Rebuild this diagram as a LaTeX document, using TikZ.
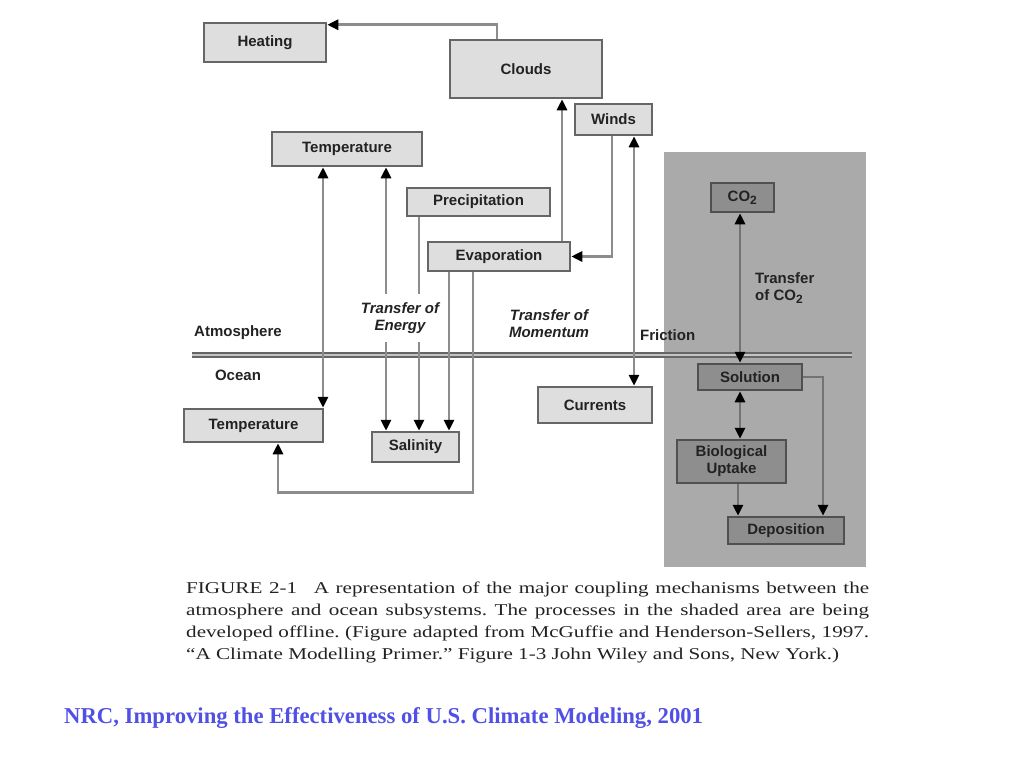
\documentclass[tikz,border=0pt]{standalone}
\usepackage{fontspec}
\setmainfont{Liberation Serif}
\setsansfont{Liberation Sans}
\newfontfamily\capfont[FakeStretch=1.28,Ligatures=TeX]{Liberation Serif}
\usepackage{tikz}
\usetikzlibrary{calc,arrows.meta}

\definecolor{boxfill}{HTML}{DEDEDE}
\definecolor{boxline}{HTML}{666666}
\definecolor{darkfill}{HTML}{8E8E8E}
\definecolor{darkline}{HTML}{505050}
\definecolor{shadegray}{HTML}{AAAAAA}
\definecolor{connline}{HTML}{8C8C8C}
\definecolor{labeltext}{HTML}{222222}
\definecolor{nrcblue}{RGB}{80,80,230}

\newcommand{\lblfont}{\sffamily\bfseries\fontsize{15}{17}\selectfont}
\newcommand{\cotwo}{CO\textsubscript{\fontsize{12}{12}\selectfont 2}}

\tikzset{
    box/.style={draw=boxline, fill=boxfill, line width=2.5pt, inner sep=0pt,
        font=\lblfont, text=labeltext, align=center},
    dbox/.style={box, draw=darkline, fill=darkfill},
    conn/.style={draw=connline, line width=2.8pt,
        -{Triangle[length=11pt,width=10pt,color=black]}},
    dconn/.style={conn,
        {Triangle[length=11pt,width=10pt,color=black]}-{Triangle[length=11pt,width=10pt,color=black]}},
    darkconn/.style={draw=darkline!80},
    tag/.style={font=\lblfont, text=labeltext, align=center, inner sep=0pt},
}

\begin{document}
\begin{tikzpicture}[x=1pt, y=-1pt]
    \useasboundingbox (0,0) rectangle (1024,768);

    \fill[shadegray] (664,152) rectangle (866,567);

    % atmosphere / ocean interface
    \coordinate (ifL) at (192,355);
    \coordinate (ifR) at (852,355);
    \draw[draw=boxline, line width=2.2pt, double=shadegray!70, double distance=2.5pt] (ifL) -- (ifR);

    \node[box, minimum width=122pt, minimum height=39pt] (heat) at (265,42.5) {Heating};
    \node[box, minimum width=152pt, minimum height=58pt] (clouds) at (526,69) {Clouds};
    \node[box, minimum width=77pt, minimum height=31pt] (winds) at (613.5,119.5) {Winds};
    \node[box, minimum width=150pt, minimum height=34pt] (tempA) at (347,149) {Temperature};
    \node[box, minimum width=143pt, minimum height=28pt] (precip) at (478.5,202) {Precipitation};
    \node[box, minimum width=142pt, minimum height=29pt] (evap) at (499,256.5) {Evaporation};
    \node[box, minimum width=139pt, minimum height=33pt] (tempO) at (253.5,425.5) {Temperature};
    \node[box, minimum width=87pt, minimum height=30pt] (salin) at (415.5,447) {Salinity};
    \node[box, minimum width=114pt, minimum height=36pt] (curr) at (595,405) {Currents};

    \node[dbox, minimum width=63pt, minimum height=29pt] (co2) at (742.5,197.5) {\cotwo};
    \node[dbox, minimum width=104pt, minimum height=26pt] (solut) at (750,377) {Solution};
    \node[dbox, minimum width=109pt, minimum height=43pt] (bio) at (731.5,461.5) {Biological\\Uptake};
    \node[dbox, minimum width=116pt, minimum height=27pt] (depos) at (786,530.5) {Deposition};

    \draw[conn] ([xshift=-29pt]clouds.north) |- ([yshift=-3pt]heat.north east);
    \draw[conn] ([xshift=63pt]evap.north) -- ([xshift=63pt]evap.north |- clouds.south);
    \draw[conn] ([xshift=-1.5pt]winds.south) |- (evap.east);
    \draw[dconn] ([xshift=20.5pt]winds.south) -- ([xshift=20.5pt]winds.south |- curr.north);

    \draw[dconn] ([xshift=-24pt]tempA.south) -- ([xshift=-24pt]tempA.south |- tempO.north);
    \draw[dconn] ([xshift=39pt]tempA.south) -- ([xshift=39pt]tempA.south |- salin.north);
    \draw[conn] ([xshift=-59.5pt]precip.south) -- ([xshift=-59.5pt]precip.south |- salin.north);
    \draw[conn] ([xshift=-50pt]evap.south) -- ([xshift=-50pt]evap.south |- salin.north);
    \draw[conn] ([xshift=-26pt]evap.south) |- ([yshift=-29pt]salin.south)
        -| ([xshift=24.5pt]tempO.south);

    \draw[dconn, darkconn] ([xshift=-2.5pt]co2.south) -- ([xshift=-2.5pt]co2.south |- solut.north);
    \draw[dconn, darkconn] ([xshift=-10pt]solut.south) -- ([xshift=-10pt]solut.south |- bio.north);
    \draw[conn, darkconn] ([xshift=6.5pt]bio.south) -- ([xshift=6.5pt]bio.south |- depos.north);
    \draw[conn, darkconn] (solut.east) -| ([xshift=37pt]depos.north);

    \node[tag, fill=white, inner xsep=2pt, inner ysep=9pt] (energy) at (400,318)
        {\itshape Transfer of\\\itshape Energy};
    \node[tag] (momentum) at (549,324) {\itshape Transfer of\\\itshape Momentum};
    \node[tag] (atmos) at (238,333) {Atmosphere};
    \node[tag] (ocean) at (238,375) {Ocean};
    \node[tag, anchor=west] (fric) at (640,335) {Friction};
    \node[tag, anchor=west, align=left] (tco2) at (755,288) {Transfer\\of \cotwo};

    \node[anchor=north west, inner sep=0pt, text width=683pt, align=justify,
        font=\capfont\frenchspacing\fontsize{16.5}{21.8}\selectfont, text=labeltext] (caption) at (186,582)
        {FIGURE 2-1\quad A representation of the major coupling mechanisms between the\linebreak
        atmosphere and ocean subsystems. The processes in the shaded area are being\linebreak
        developed offline. (Figure adapted from McGuffie and Henderson-Sellers, 1997.\linebreak
        “A Climate Modelling Primer.” Figure 1-3 John Wiley and Sons, New York.)};

    \node[anchor=west, inner sep=0pt, text=nrcblue,
        font=\bfseries\fontsize{22.7}{26}\selectfont] (source) at (64,718)
        {NRC, Improving the Effectiveness of U.S. Climate Modeling, 2001};
\end{tikzpicture}
\end{document}
